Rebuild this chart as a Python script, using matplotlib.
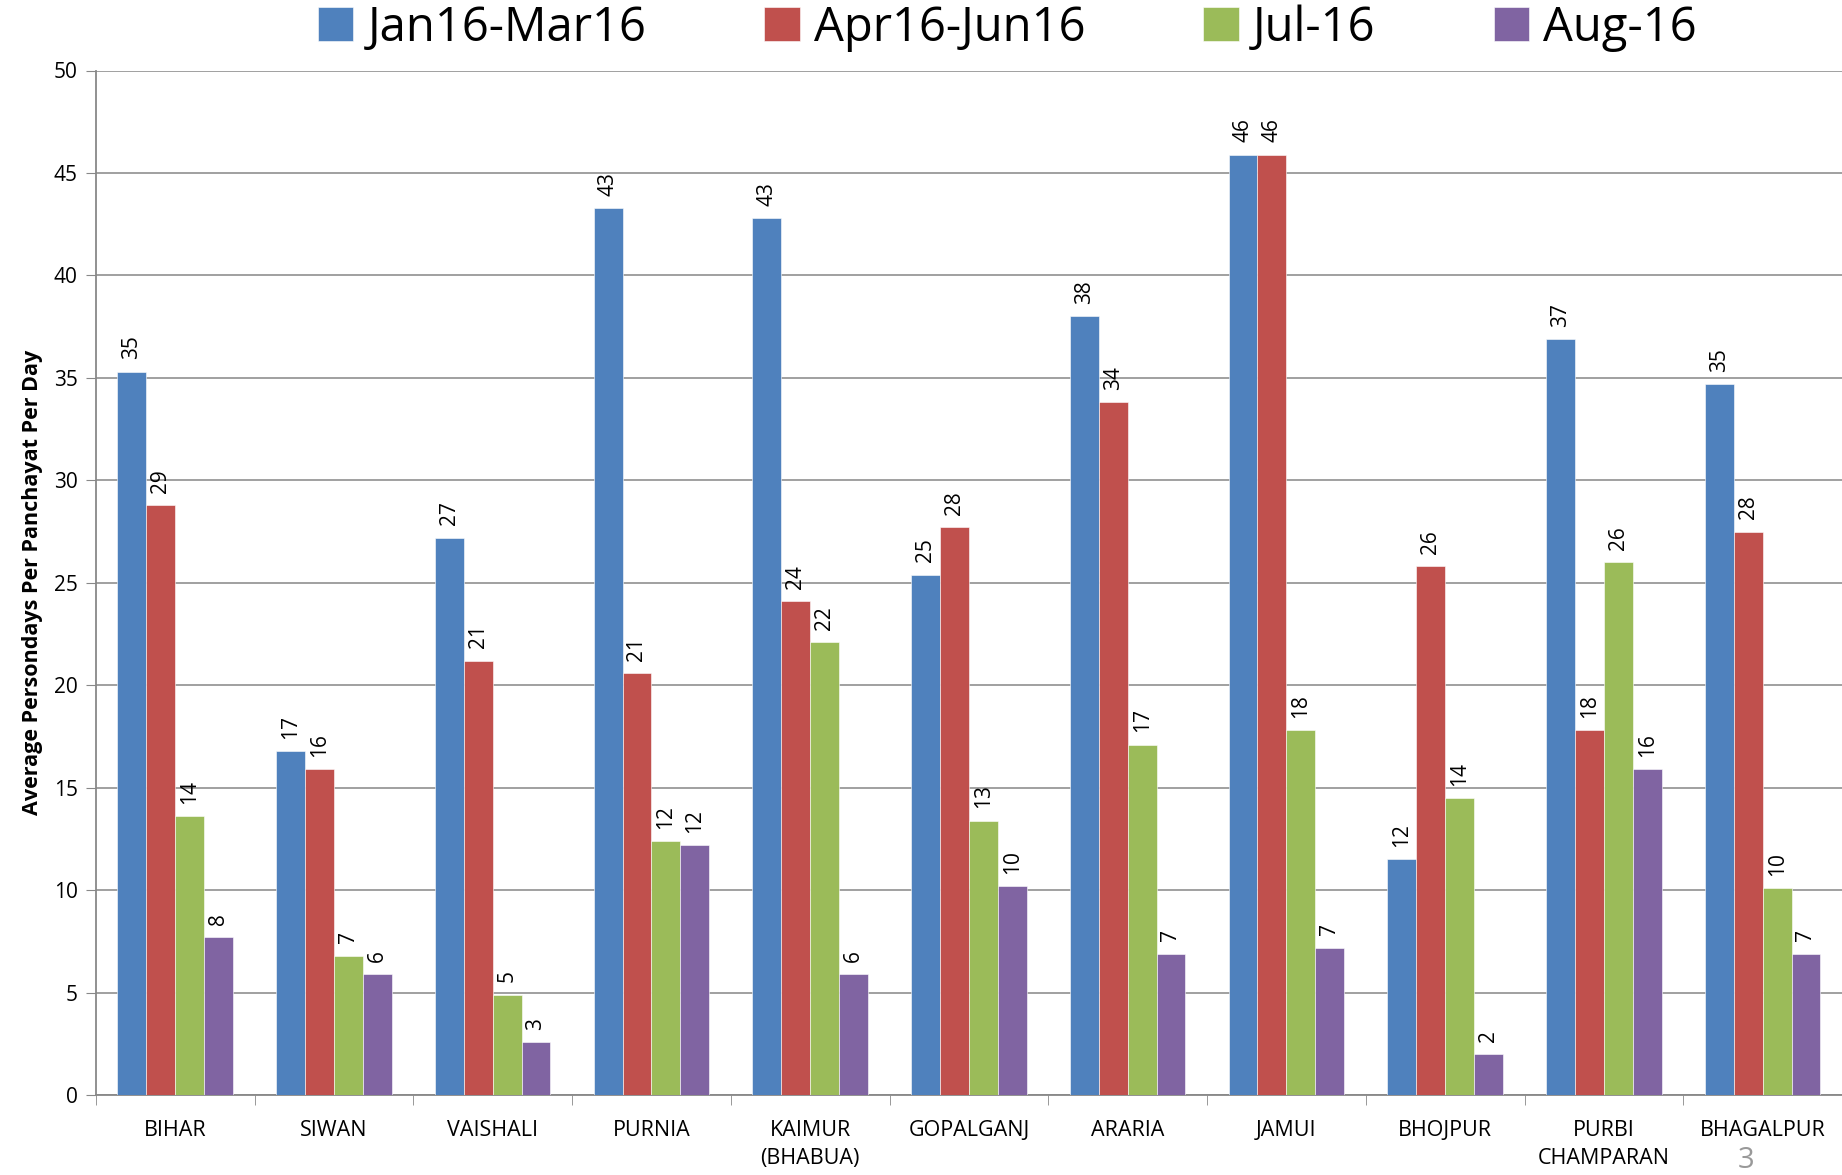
import matplotlib
matplotlib.use('Agg')
import matplotlib.pyplot as plt
import numpy as np

districts = ["BIHAR", "SIWAN", "VAISHALI", "PURNIA", "KAIMUR\n(BHABUA)", "GOPALGANJ",
             "ARARIA", "JAMUI", "BHOJPUR", "PURBI\nCHAMPARAN", "BHAGALPUR"]
series_names = ["Jan16-Mar16", "Apr16-Jun16", "Jul-16", "Aug-16"]
jan_mar = [35.3, 16.8, 27.2, 43.3, 42.8, 25.4, 38.0, 45.9, 11.5, 36.9, 34.7]
apr_jun = [28.8, 15.9, 21.2, 20.6, 24.1, 27.7, 33.8, 45.9, 25.8, 17.8, 27.5]
jul = [13.6, 6.8, 4.9, 12.4, 22.1, 13.4, 17.1, 17.8, 14.5, 26.0, 10.1]
aug = [7.7, 5.9, 2.6, 12.2, 5.9, 10.2, 6.9, 7.2, 2.0, 15.9, 6.9]
colors = ['#4f81bd', '#c0504d', '#9bbb59', '#8064a2']

plt.rcParams['font.family'] = ['Open Sans', 'DejaVu Sans']

fig = plt.figure(figsize=(18.42, 11.75), dpi=100)
ax = fig.add_axes([0.052, 0.068, 0.948, 0.872])

x = np.arange(len(districts))
w = 0.182
for i, (name, vals) in enumerate(zip(series_names, [jan_mar, apr_jun, jul, aug])):
    pos = x + (i - 1.5) * w
    ax.bar(pos, vals, w, color=colors[i], label=name, edgecolor='white', linewidth=0.4, zorder=3)
    for p, v in zip(pos, vals):
        ax.text(p, v + 0.6, f"{v:.0f}", rotation=90, ha='center', va='bottom', fontsize=15)

ax.set_xlim(-0.5, len(districts) - 0.5)
ax.set_ylim(0, 50)
ax.set_yticks(range(0, 51, 5))
ax.tick_params(axis='y', labelsize=15, length=7, color='#888888', pad=6)
ax.set_xticks(x)
ax.set_xticklabels(districts, fontsize=15.5, linespacing=1.45)
ax.tick_params(axis='x', length=0, pad=18)
ax.set_xticks(np.arange(-0.5, len(districts), 1), minor=True)
ax.tick_params(axis='x', which='minor', length=7, color='#888888')
ax.grid(axis='y', color='#999999', linewidth=1.3, zorder=0)
for s in ['top', 'right']:
    ax.spines[s].set_visible(False)
for s in ['left', 'bottom']:
    ax.spines[s].set_color('#888888')
    ax.spines[s].set_linewidth(1.3)

ax.set_ylabel("Average Persondays Per Panchayat Per Day", fontsize=15.5, fontweight='bold', labelpad=8)

ax.legend(loc='lower center', bbox_to_anchor=(0.522, 1.0), ncol=4, frameon=False,
          fontsize=34, handlelength=0.75, handleheight=0.75, handletextpad=0.3, columnspacing=2.5,
          borderaxespad=0)

fig.text(0.948, 0.0, "3", fontsize=21, color='#999999', ha='center', va='bottom')

fig.savefig("out.png", dpi=100)
